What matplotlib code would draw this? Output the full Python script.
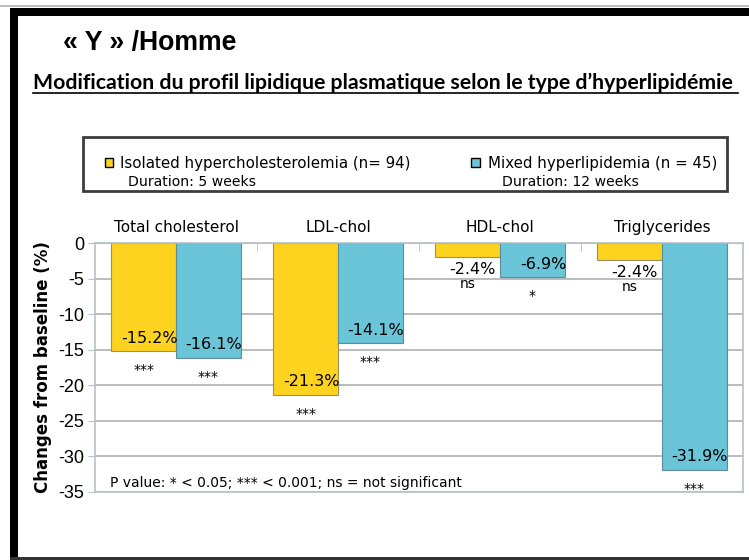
import numpy as np
import matplotlib
matplotlib.use('agg')
from matplotlib import pyplot as plt
from matplotlib.patches import Rectangle
from matplotlib.lines import Line2D

W, H = 749, 560
PT = 0.72  # pixels -> points at dpi 100

categories = ['Total cholesterol', 'LDL-chol', 'HDL-chol', 'Triglycerides']
isolated = [-15.2, -21.3, -2.0, -2.4]
mixed = [-16.1, -14.1, -4.8, -31.9]
isolated_labels = ['-15.2%', '-21.3%', '-2.4%', '-2.4%']
mixed_labels = ['-16.1%', '-14.1%', '-6.9%', '-31.9%']
isolated_sig = ['***', '***', 'ns', 'ns']
mixed_sig = ['***', '***', '*', '***']
yticks = [0, -5, -10, -15, -20, -25, -30, -35]

yellow = '#FDD31F'
blue = '#6AC5D8'
frame = '#B4C2CA'
comic = ['DejaVu Sans']


def fx(x):
    return x / W


def fy(y):
    return 1 - y / H


def box(x0, y0, x1, y1, **kw):
    fig.add_artist(Rectangle((fx(x0), fy(y1)), (x1 - x0) / W, (y1 - y0) / H,
                             transform=fig.transFigure, **kw))


def fit_width(t, target):
    fig.canvas.draw()
    w = t.get_window_extent().width
    t.set_fontsize(t.get_fontsize() * target / w)


fig = plt.figure(figsize=(W / 100, H / 100), dpi=100)

# page frame
fig.add_artist(Line2D([0, 1], [fy(6), fy(6)], transform=fig.transFigure, color='#b0b0b0', lw=1.2))
box(10, 8, W, 16, color='black', lw=0)
box(10, 8, 18, H, color='black', lw=0)
box(10, 557, W, H, color='#333333', lw=0)

# titles
t = fig.text(fx(63), fy(43), '« Y » /Homme', fontsize=20, fontweight='bold',
             family='Liberation Sans', va='center')
fit_width(t, 174)
sub = fig.text(fx(33), fy(89), "Modification du profil lipidique plasmatique selon le type d\u2019hyperlipidémie",
               fontsize=14, fontweight='bold', family='Lato', va='baseline')
fit_width(sub, 705)
fig.add_artist(Line2D([fx(33), fx(738)], [fy(93), fy(93)], transform=fig.transFigure, color='black', lw=1.2))

# legend box
box(83, 137, 727, 191, fill=False, edgecolor='#3c3c3c', lw=2)
box(105, 158, 113, 167, facecolor=yellow, edgecolor='black', lw=1)
box(471, 158, 480, 167, facecolor=blue, edgecolor='black', lw=1)
t1 = fig.text(fx(120), fy(163), 'Isolated hypercholesterolemia (n= 94)', family=comic, va='center', fontsize=11)
fit_width(t1, 290)
t2 = fig.text(fx(488), fy(163), 'Mixed hyperlipidemia (n = 45)', family=comic, va='center', fontsize=11)
fit_width(t2, 228)
t3 = fig.text(fx(128), fy(182), 'Duration: 5 weeks', family=comic, va='center', fontsize=9)
fit_width(t3, 128)
t4 = fig.text(fx(502), fy(182), 'Duration: 12 weeks', family=comic, va='center', fontsize=9)
fit_width(t4, 136)

# chart
ax = fig.add_axes([fx(95), fy(492), (743 - 95) / W, (492 - 243) / H])
x = np.arange(len(categories))
bw = 0.4
ax.bar(x - bw / 2, isolated, bw, color=yellow, edgecolor='#9a9060', lw=0.8, zorder=2)
ax.bar(x + bw / 2, mixed, bw, color=blue, edgecolor='#5c8c98', lw=0.8, zorder=2)
ax.set_xlim(-0.5, 3.5)
ax.set_ylim(-35, 0)
ax.set_yticks(yticks)
ax.set_yticklabels([str(v) for v in yticks], family=['Liberation Sans Narrow', 'Liberation Sans'], fontsize=13)
ax.yaxis.grid(True, color='#b0b0b0', lw=1.2)
ax.set_axisbelow(True)
for s in ax.spines.values():
    s.set_color(frame)
    s.set_linewidth(1.2)
ax.tick_params(axis='y', direction='out', length=5, color=frame, pad=3)

ax.xaxis.tick_top()
ax.set_xticks(x)
ax.set_xticklabels(categories, family=comic, fontsize=11)
ax.set_xticks([0.5, 1.5, 2.5], minor=True)
ax.tick_params(axis='x', which='major', length=0, pad=6)
ax.tick_params(axis='x', which='minor', direction='in', length=6, color=frame)

ax.set_ylabel('Changes from baseline (%)', family=comic, fontsize=12, fontweight='bold')
ax.yaxis.set_label_coords(-0.067, 0.5)


def annotate_bar(xc, val, label, sig):
    xr = xc + bw / 2
    if val < -4:
        ax.annotate(label, (xr, val), xytext=(1, 13 * PT), textcoords='offset points',
                    ha='right', va='center', family=comic, fontsize=11.5, zorder=3)
        ax.annotate(sig, (xc, val), xytext=(0, -19 * PT), textcoords='offset points',
                    ha='center', va='center', family=comic, fontsize=10, zorder=3)
    else:
        ax.annotate(label, (xr, val), xytext=(-4 * PT, -12 * PT), textcoords='offset points',
                    ha='right', va='center', family=comic, fontsize=11.5, zorder=3)
        ax.annotate(sig, (xc, val), xytext=(0, -27 * PT), textcoords='offset points',
                    ha='center', va='center', family=comic, fontsize=10, zorder=3)


for i in range(len(categories)):
    annotate_bar(x[i] - bw / 2, isolated[i], isolated_labels[i], isolated_sig[i])
    annotate_bar(x[i] + bw / 2, mixed[i], mixed_labels[i], mixed_sig[i])

fig.text(fx(110), fy(483), 'P value: * < 0.05; *** < 0.001; ns = not significant',
         family=comic, fontsize=10, va='center')

fig.savefig('out.png', dpi=100)
